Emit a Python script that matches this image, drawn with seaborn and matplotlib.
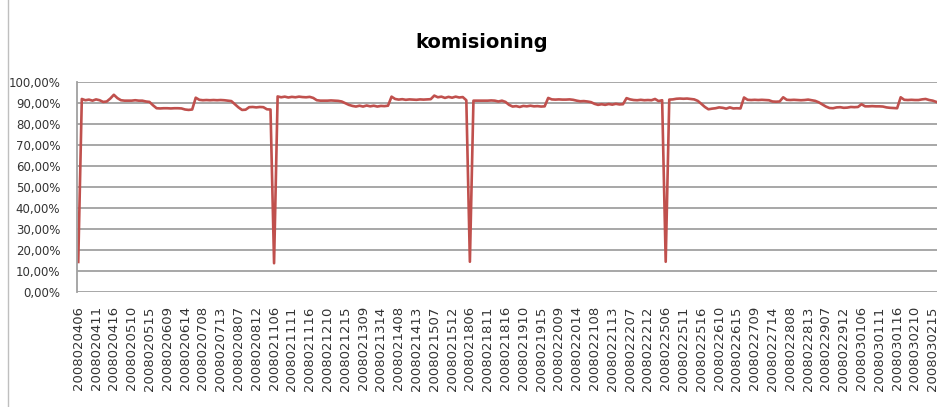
import numpy as np
import pandas as pd
import matplotlib
matplotlib.use("Agg")
import matplotlib.pyplot as plt
from matplotlib.lines import Line2D
import seaborn as sns

# working days in the export (MMDD) and the hours logged each day
days = ["0204", "0205", "0206", "0207", "0208",
        "0211", "0212", "0213", "0214", "0215",
        "0218", "0219", "0220", "0221", "0222",
        "0225", "0226", "0227", "0228", "0229",
        "0301", "0302"]
hours = ["06", "07", "08", "09", "10", "11", "12", "13", "14", "15", "16"]

# komisioning %, one list of 11 hourly readings per day
v0204 = [14.4, 91.8, 91.2, 91.5, 91.0, 91.6, 91.2, 90.4, 90.6, 92.0, 93.8]
v0205 = [92.2, 91.2, 91.0, 91.0, 91.0, 91.2, 91.0, 91.0, 90.6, 90.4, 88.8]
v0206 = [87.4, 87.3, 87.4, 87.4, 87.3, 87.4, 87.4, 87.3, 86.8, 86.6, 86.8]
v0207 = [92.4, 91.4, 91.2, 91.3, 91.2, 91.3, 91.2, 91.3, 91.2, 91.0, 90.8]
v0208 = [89.3, 87.8, 86.6, 86.7, 87.9, 88.0, 87.8, 88.0, 87.9, 86.9, 86.8]
v0211 = [13.8, 93.0, 92.6, 92.9, 92.5, 92.8, 92.6, 92.9, 92.7, 92.6, 92.8]
v0212 = [92.3, 91.2, 91.0, 91.0, 91.0, 91.1, 91.0, 90.9, 90.6, 89.8, 89.0]
v0213 = [88.5, 88.2, 88.6, 88.2, 88.7, 88.3, 88.6, 88.2, 88.5, 88.4, 88.6]
v0214 = [92.9, 91.8, 91.5, 91.7, 91.4, 91.6, 91.5, 91.4, 91.6, 91.5, 91.6]
v0215 = [91.7, 93.4, 92.6, 92.9, 92.3, 92.8, 92.4, 92.9, 92.5, 92.7, 91.2]
v0218 = [14.5, 91.0, 91.0, 91.0, 91.0, 91.0, 91.1, 91.0, 90.6, 91.0, 90.4]
v0219 = [89.0, 88.2, 88.4, 88.0, 88.5, 88.3, 88.6, 88.3, 88.4, 88.2, 88.3]
v0220 = [92.3, 91.6, 91.5, 91.6, 91.5, 91.5, 91.6, 91.4, 91.0, 90.7, 90.8]
v0221 = [90.6, 90.3, 89.5, 89.0, 89.3, 89.0, 89.4, 89.1, 89.5, 89.2, 89.3]
v0222 = [92.2, 91.6, 91.3, 91.2, 91.4, 91.2, 91.3, 91.2, 91.8, 90.8, 91.2]
v0225 = [14.5, 91.5, 91.6, 91.9, 92.0, 91.9, 92.0, 91.8, 91.6, 90.9, 89.5]
v0226 = [88.0, 86.9, 87.2, 87.4, 87.8, 87.6, 87.2, 87.8, 87.3, 87.4, 87.3]
v0227 = [92.5, 91.4, 91.3, 91.4, 91.3, 91.4, 91.3, 91.2, 90.6, 90.5, 90.6]
v0228 = [92.6, 91.4, 91.3, 91.4, 91.3, 91.2, 91.3, 91.5, 91.2, 90.9, 90.2]
v0229 = [89.2, 88.2, 87.5, 87.4, 87.8, 87.9, 87.6, 87.7, 88.0, 87.9, 88.0]
v0301 = [89.3, 88.3, 88.3, 88.4, 88.3, 88.3, 88.2, 87.8, 87.6, 87.5, 87.4]
v0302 = [92.6, 91.4, 91.3, 91.4, 91.3, 91.3, 91.6, 91.8, 91.3, 91.0, 90.4]

per_day = [v0204, v0205, v0206, v0207, v0208, v0211, v0212, v0213, v0214, v0215,
           v0218, v0219, v0220, v0221, v0222, v0225, v0226, v0227, v0228, v0229,
           v0301, v0302]

# one row per hour, labelled like the export (yyyymmddhh)
stamps = ["2008" + d + h for d in days for h in hours]
values = [v for day in per_day for v in day]
df = pd.DataFrame({"stamp": stamps, "pct": values})
df["pos"] = np.arange(len(df))

W, H = 942, 407
fig = plt.figure(figsize=(W / 100, H / 100), dpi=100)
ax = fig.add_axes([77 / W, 1 - 292.3 / H, 860 / W, 210.6 / H])

sns.lineplot(data=df, x="pos", y="pct", ax=ax, color="#c0504d", linewidth=1.9)

ax.set_xlim(-0.35, len(df) - 0.8)
ax.set_ylim(0, 100)
ax.set_yticks(np.arange(0, 101, 10))
ax.set_yticklabels([f"{t:.2f}%".replace(".", ",") for t in np.arange(0, 101, 10)],
                   fontsize=8.5, color="#333333")
ax.set_xticks(df["pos"][::5])
ax.set_xticklabels(df["stamp"][::5], rotation=90, fontsize=9.5, color="#333333")
ax.tick_params(axis="y", length=0, pad=12)
ax.tick_params(axis="x", length=0, pad=10)
ax.set_xlabel("")
ax.set_ylabel("")

ax.grid(axis="y", color="#a0a0a0", linewidth=1.3)
ax.set_axisbelow(True)
for s in ["top", "right", "bottom"]:
    ax.spines[s].set_visible(False)
ax.spines["left"].set_color("#a0a0a0")
ax.spines["left"].set_linewidth(1.3)

fig.text(482 / W, 1 - 42 / H, "komisioning", ha="center", va="center",
         fontsize=14, fontweight="bold", color="#000000")

# chart border on the left edge
fig.add_artist(Line2D([8 / W, 8 / W], [0, 1], color="#bfbfbf", linewidth=1))

fig.savefig("out.png", dpi=100)
